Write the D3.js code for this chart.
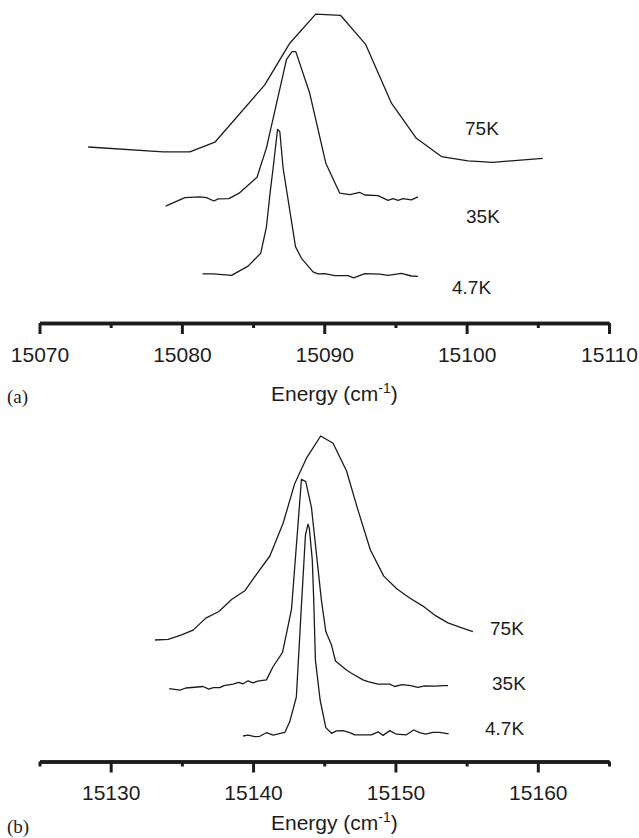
<!DOCTYPE html>
<html><head><meta charset="utf-8">
<script src="https://cdn.jsdelivr.net/npm/d3@7/dist/d3.min.js"></script>
<style>body{margin:0;background:#fff}</style>
</head><body><svg id="c" width="639" height="838"></svg>
<script>
// ---------- Panel (a) ----------
const aMajorTicks = [15070, 15080, 15090, 15100, 15110];
const aMinorTicks = [15075, 15085, 15095, 15105];
const aE75 = [15073.42,15078.69,15080.56,15082.32,15085.82,15087.58,15089.40,15091.14,15092.91,15094.72,15096.47,15098.23,15100.09,15101.85,15105.35];
const aI75 = [51.0,49.4,49.4,52.6,71.7,85.6,95.3,94.9,85.2,65.6,53.9,47.8,46.4,45.9,47.2];
const aE35 = [15078.86,15080.21,15081.26,15081.73,15082.25,15082.55,15083.30,15084.02,15085.28,15085.94,15087.35,15087.74,15088.00,15088.98,15090.11,15091.09,15091.79,15092.49,15092.84,15093.78,15094.48,15094.83,15095.18,15095.53,15096.12,15096.58];
const aI35 = [31.3,34.1,34.4,34.1,33.0,33.7,33.8,35.6,40.9,50.7,80.2,82.8,82.8,68.9,45.6,35.6,35.1,35.9,35.0,34.8,33.2,33.8,33.2,33.8,33.4,34.4];
const aE47 = [15081.45,15082.20,15083.49,15084.65,15085.54,15085.94,15086.22,15086.41,15086.72,15086.88,15087.11,15087.98,15088.40,15089.21,15089.56,15090.04,15090.74,15091.67,15092.07,15092.84,15093.89,15094.48,15095.42,15096.12,15096.58];
const aI47 = [8.7,8.7,8.2,11.3,15.6,24.4,36.7,44.0,56.9,56.1,44.0,17.8,13.9,9.4,8.7,8.8,8.1,8.1,7.4,8.8,8.6,8.2,8.9,8.0,7.9];

// ---------- Panel (b) ----------
const bMajorTicks = [15130, 15140, 15150, 15160];
const bMinorTicks = [15125, 15135, 15145, 15155, 15165];
const bE75 = [15133.11,15134.04,15134.98,15135.79,15136.68,15137.60,15138.49,15139.42,15140.30,15141.18,15142.11,15142.93,15143.75,15144.75,15145.62,15146.56,15147.37,15148.24,15149.18,15150.11,15151.00,15151.93,15152.75,15153.69,15154.51,15155.44];
const bI75 = [40.0,40.2,41.7,43.3,47.3,49.5,53.5,56.4,62.3,68.0,78.9,92.2,100.6,108.0,105.6,96.4,83.3,70.0,61.3,57.0,54.0,51.3,48.3,45.7,44.3,42.8];
const bE35 = [15134.11,15134.86,15135.28,15136.49,15136.89,15137.21,15137.67,15137.95,15138.60,15138.99,15139.30,15139.65,15140.00,15140.32,15140.94,15141.39,15142.07,15142.35,15142.70,15143.40,15143.70,15144.10,15144.80,15145.11,15145.51,15145.79,15146.56,15146.91,15147.72,15148.07,15148.78,15149.60,15149.95,15150.47,15151.07,15151.58,15152.05,15152.82,15153.34,15153.69];
const bI35 = [23.8,23.3,24.0,24.5,23.6,24.1,24.1,24.8,25.3,25.9,25.4,26.4,25.7,26.3,26.7,31.0,35.9,42.2,50.3,93.6,92.8,84.2,53.3,42.8,38.3,33.0,30.0,28.9,26.7,26.1,25.3,25.3,24.5,25.1,24.8,24.2,24.7,24.6,24.8,24.8];
const bE47 = [15139.30,15139.65,15140.12,15140.47,15140.94,15141.41,15142.23,15142.58,15143.04,15143.40,15143.68,15143.86,15143.95,15144.16,15144.26,15144.38,15144.71,15145.11,15145.51,15145.86,15146.32,15146.79,15147.14,15147.63,15148.31,15148.78,15149.13,15149.60,15150.07,15150.77,15151.28,15151.70,15152.12,15152.64,15153.11,15153.74];
const bI47 = [8.0,8.3,7.8,7.9,9.1,8.3,9.2,12.8,21.0,51.7,75.0,78.6,77.3,66.7,53.3,33.3,20.0,10.8,8.9,9.7,9.8,9.1,8.4,8.4,8.4,9.4,8.2,9.8,8.6,8.4,10.0,9.1,8.6,9.2,9.2,8.7];

const curveLabels = ["75K", "35K", "4.7K"];
const axisTitle = "Energy (cm";
const panelTags = ["(a)", "(b)"];

const svg = d3.select("#c");
const INK = "#1c1c1c";
const SANS = "'Liberation Sans', Arial, Helvetica, sans-serif";

function panel(cfg) {
  const x = d3.scaleLinear().domain(cfg.xDomain).range([39.5, 609]);
  const y = d3.scaleLinear().domain([0, 100]).range(cfg.yRange);
  const line = d3.line().x(d => x(d[0])).y(d => y(d[1]));
  const g = svg.append("g");
  cfg.series.forEach(s => {
    g.append("path")
      .attr("d", line(d3.zip(s.e, s.i)))
      .attr("fill", "none").attr("stroke", INK)
      .attr("stroke-width", 1.3).attr("stroke-linejoin", "round");
  });
  cfg.labels.forEach(l => {
    g.append("text").attr("x", l.x).attr("y", l.y).text(l.t)
      .attr("font-family", SANS).attr("font-size", 19).attr("fill", INK);
  });
  const minor = g.append("g").attr("transform", `translate(0,${cfg.axisY})`)
    .call(d3.axisBottom(x).tickValues(cfg.minor).tickSize(5).tickSizeOuter(0).tickFormat(""));
  const major = g.append("g").attr("transform", `translate(0,${cfg.axisY})`)
    .call(d3.axisBottom(x).tickValues(cfg.major).tickSize(11).tickSizeOuter(0).tickPadding(13).tickFormat(d3.format("d")));
  [minor, major].forEach(a => {
    a.select(".domain").attr("stroke", INK).attr("stroke-width", 3.5);
    a.selectAll(".tick line").attr("stroke", INK).attr("stroke-width", 3);
    a.selectAll(".tick text").attr("font-family", SANS).attr("font-size", 21).attr("fill", INK);
  });
  const t = g.append("text").attr("x", cfg.titleX).attr("y", cfg.titleY)
    .attr("font-family", SANS).attr("font-size", 21).attr("fill", INK);
  t.append("tspan").text(axisTitle);
  t.append("tspan").attr("dy", -8).attr("font-size", 14).text("-1");
  t.append("tspan").attr("dy", 8).text(")");
  g.append("text").attr("x", 7).attr("y", cfg.tagY).text(cfg.tag)
    .attr("font-family", "'Liberation Serif', 'Times New Roman', serif")
    .attr("font-size", 19).attr("fill", INK);
}

panel({
  xDomain: [15070, 15110], yRange: [300, 0], axisY: 323,
  major: aMajorTicks, minor: aMinorTicks,
  series: [{e: aE75, i: aI75}, {e: aE35, i: aI35}, {e: aE47, i: aI47}],
  labels: [{t: curveLabels[0], x: 465, y: 135}, {t: curveLabels[1], x: 466, y: 223}, {t: curveLabels[2], x: 452, y: 294}],
  titleX: 271, titleY: 401, tag: panelTags[0], tagY: 403
});
panel({
  xDomain: [15125, 15165], yRange: [760, 460], axisY: 761.5,
  major: bMajorTicks, minor: bMinorTicks,
  series: [{e: bE75, i: bI75}, {e: bE35, i: bI35}, {e: bE47, i: bI47}],
  labels: [{t: curveLabels[0], x: 490, y: 635}, {t: curveLabels[1], x: 492, y: 690}, {t: curveLabels[2], x: 485, y: 735}],
  titleX: 271, titleY: 830, tag: panelTags[1], tagY: 833
});
</script></body></html>
